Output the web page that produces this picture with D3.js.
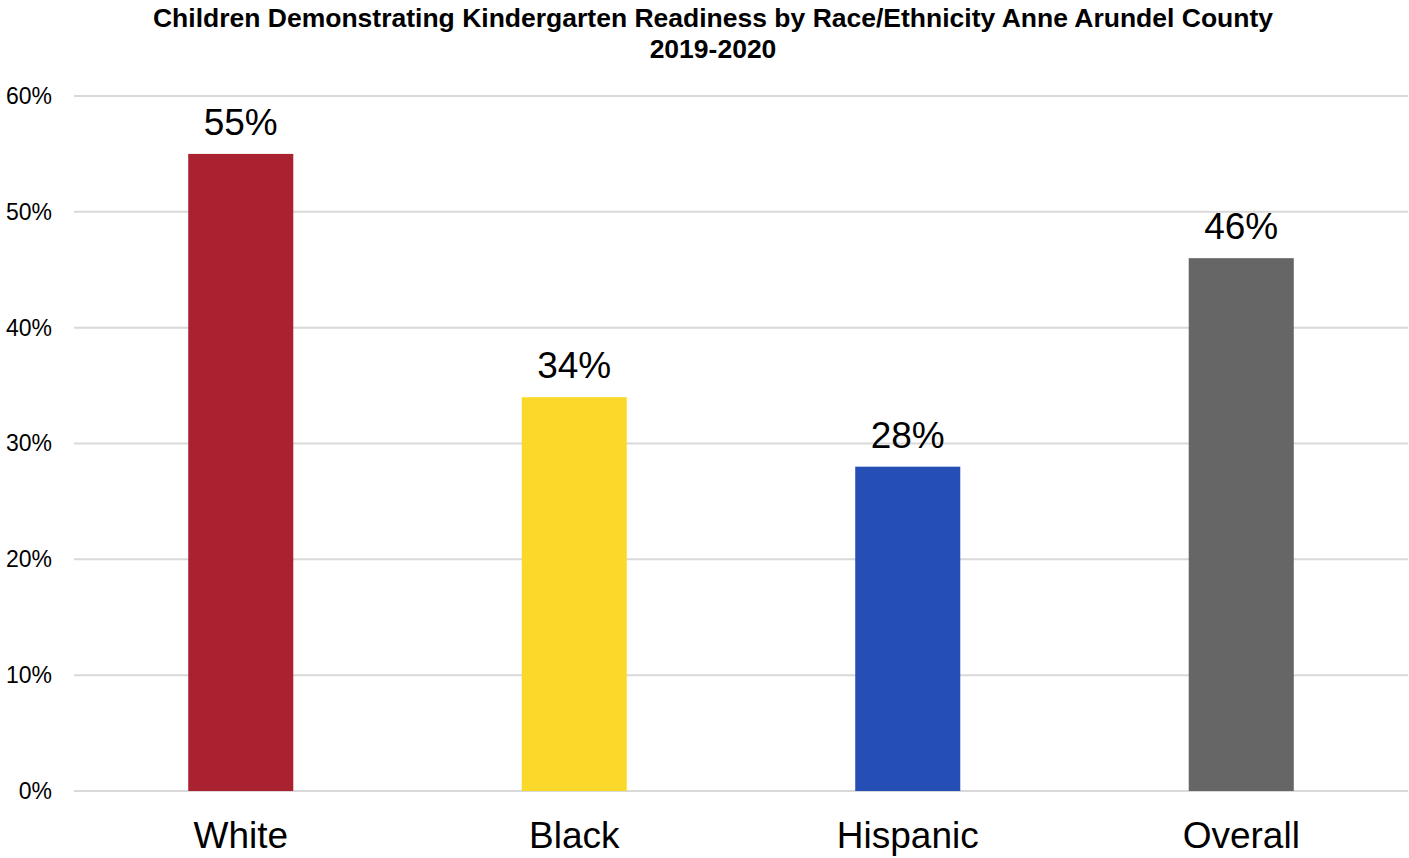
<!DOCTYPE html>
<html><head><meta charset="utf-8">
<script src="https://cdn.jsdelivr.net/npm/d3@7"></script>
<style>body{margin:0;background:#fff;}svg{display:block;font-family:"Liberation Sans",Arial,sans-serif;}</style>
</head><body><svg id="c" width="1409" height="858"></svg>
<script>
const categories = ["White", "Black", "Hispanic", "Overall"];
const values = [0.55, 0.34, 0.28, 0.46];
const colors = ["#AA222F", "#FBD92B", "#264FB5", "#666666"];
const yTicks = [0, 0.1, 0.2, 0.3, 0.4, 0.5, 0.6];
const titleLines = ["Children Demonstrating Kindergarten Readiness by Race/Ethnicity Anne Arundel County", "2019-2020"];

(function () {
const svg = d3.select("#c");
const mLeft = 74, mRight = 1408, mTop = 96, mBottom = 791;
const x = d3.scaleBand().domain(categories).range([mLeft, mRight]).paddingInner(0.685).paddingOuter(0.3425);
const y = d3.scaleLinear().domain([0, 0.6]).range([mBottom, mTop]);

svg.append("g").selectAll("line").data(yTicks).join("line")
  .attr("x1", mLeft).attr("x2", mRight)
  .attr("y1", d => y(d)).attr("y2", d => y(d))
  .attr("stroke", "#d9d9d9").attr("stroke-width", 2);

const yAxis = d3.axisLeft(y).tickValues(yTicks).tickFormat(d3.format(".0%")).tickSize(0).tickPadding(22);
svg.append("g").attr("transform", `translate(${mLeft},0)`).call(yAxis)
  .call(g => g.select(".domain").remove())
  .call(g => g.selectAll("text").attr("font-size", 23).attr("fill", "#000").attr("font-family", "Liberation Sans, Arial, sans-serif"));

svg.append("g").selectAll("rect").data(values).join("rect")
  .attr("x", (d, i) => x(categories[i])).attr("width", x.bandwidth())
  .attr("y", d => y(d)).attr("height", d => y(0) - y(d))
  .attr("fill", (d, i) => colors[i]);

svg.append("g").selectAll("text").data(values).join("text")
  .attr("x", (d, i) => x(categories[i]) + x.bandwidth() / 2)
  .attr("y", d => y(d) - 19)
  .attr("text-anchor", "middle").attr("font-size", 37).attr("fill", "#000")
  .text(d => d3.format(".0%")(d));

const xAxis = d3.axisBottom(x).tickSize(0).tickPadding(31);
svg.append("g").attr("transform", `translate(0,${mBottom})`).call(xAxis)
  .call(g => g.select(".domain").remove())
  .call(g => g.selectAll("text").attr("font-size", 37).attr("fill", "#000").attr("font-family", "Liberation Sans, Arial, sans-serif"));

svg.append("g").selectAll("text").data(titleLines).join("text")
  .attr("x", 713).attr("y", (d, i) => 27 + i * 31)
  .attr("text-anchor", "middle").attr("font-size", 26.5).attr("font-weight", "bold").attr("fill", "#000")
  .text(d => d);
})();
</script></body></html>
